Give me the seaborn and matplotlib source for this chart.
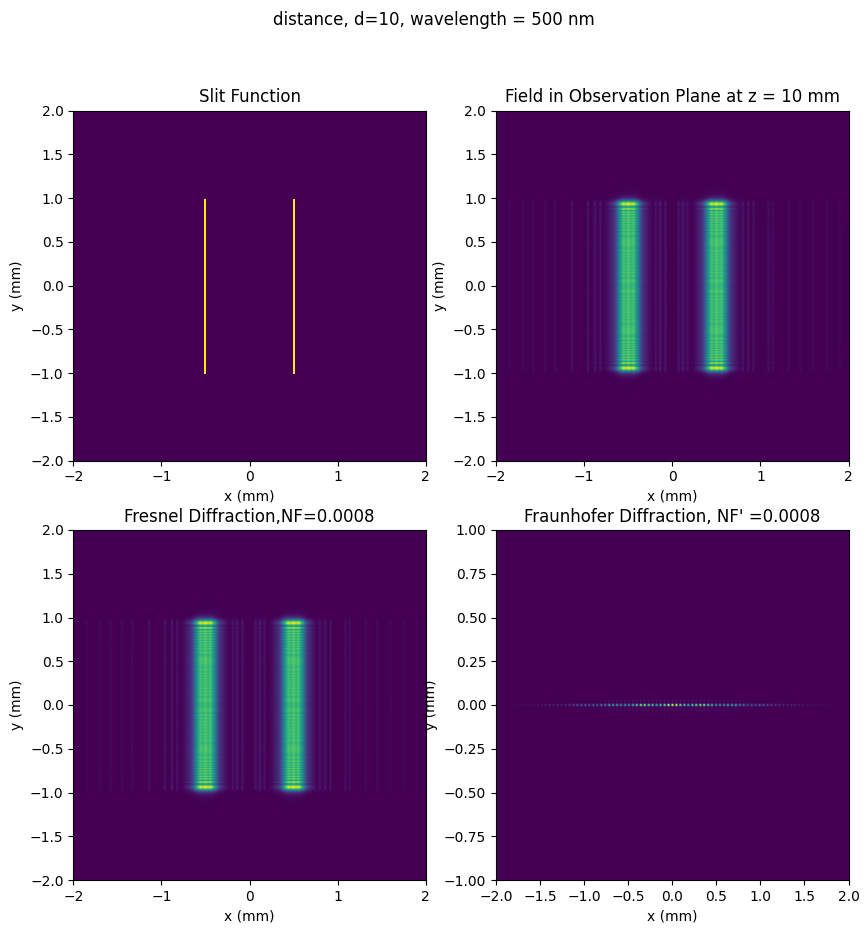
import numpy as np
import matplotlib
matplotlib.use("Agg")
import matplotlib.pyplot as plt
import seaborn as sns

# parametros
wavelength_mm = 500e-6
z_mm = 10.0
slit_centers = [-0.5, 0.5]
slit_line_width = 0.025
band_core = 0.12
band_shoulder = 0.21
slit_half_height = 1.0
NF = 0.0008

# franjas debiles fuera de las bandas (posicion en mm, amplitud relativa)
stripe_pos = [-1.85, -1.7, -1.58, -1.45, -1.33, -1.14, -0.96, -0.88, -0.82,
              -0.19, -0.14, -0.08, 0.07, 0.12, 0.17,
              0.80, 0.86, 0.92, 1.09, 1.14, 1.32, 1.45, 1.6, 1.75, 1.9]
stripe_amp = [0.03, 0.035, 0.04, 0.045, 0.05, 0.07, 0.09, 0.10, 0.08,
              0.09, 0.12, 0.10, 0.10, 0.12, 0.09,
              0.08, 0.10, 0.08, 0.06, 0.05, 0.04, 0.04, 0.035, 0.03, 0.03]

# patron de Fraunhofer
fringe_period = 0.045
env_width = 0.9
beat_period = 0.35

n = 400
x = np.linspace(-2, 2, n)
y = np.linspace(-2, 2, n)


def fresnel_tables():
    t = np.linspace(-80, 80, 320001)
    dt = t[1] - t[0]
    C = np.cumsum(np.cos(np.pi * t**2 / 2)) * dt
    S = np.cumsum(np.sin(np.pi * t**2 / 2)) * dt
    return t, C, S


T, CT, ST = fresnel_tables()


def slit_amp(xs, x1, x2):
    k = np.sqrt(2 / (wavelength_mm * z_mm))
    u1 = k * (x1 - xs)
    u2 = k * (x2 - xs)
    dC = np.interp(u2, T, CT) - np.interp(u1, T, CT)
    dS = np.interp(u2, T, ST) - np.interp(u1, T, ST)
    return (dC + 1j * dS) / np.sqrt(2)


# perfil en x: dos bandas suaves
Ix = np.zeros_like(x)
for c in slit_centers:
    d = x - c
    Ix = Ix + np.exp(-(d / band_core)**4) * (0.88 + 0.12 * np.cos(np.pi * d / 0.06)**2)
    Ix = Ix + 0.35 * np.exp(-(d / band_shoulder)**4)
for p, a in zip(stripe_pos, stripe_amp):
    Ix = Ix + a * np.exp(-((x - p) / 0.015)**2)

# perfil en y
uy = slit_amp(y, -slit_half_height, slit_half_height)
Iy = np.abs(uy)**2

field = np.outer(Iy, Ix)
field = field / field.max()

# funcion de rendija
X, Y = np.meshgrid(x, y)
slit = np.zeros_like(X)
for c in slit_centers:
    slit[(np.abs(X - c) < slit_line_width / 2 + 1e-9) & (np.abs(Y) <= slit_half_height)] = 1.0

# Fraunhofer
xf = np.linspace(-2, 2, n)
yf = np.linspace(-1, 1, n)
Ixf = np.exp(-(xf / env_width)**2) * np.cos(np.pi * xf / fringe_period)**2
Ixf = Ixf * (0.65 + 0.35 * np.cos(np.pi * xf / beat_period)**2)
Iyf = np.exp(-(yf / 0.006)**2) + 0.05 * np.exp(-((np.abs(yf) - 0.025) / 0.008)**2)
fraun = np.outer(Iyf, Ixf)
fraun = fraun / fraun.max()

cmap = sns.color_palette("viridis", as_cmap=True)

fig = plt.figure(figsize=(8.68, 9.33), dpi=100)
W, H = 868, 933
aw, ah = 352.5 / W, 350 / H
lefts = [73.3 / W, 496 / W]
bottoms = [1 - 460.7 / H, 1 - 880 / H]

ax1 = fig.add_axes([lefts[0], bottoms[0], aw, ah])
ax2 = fig.add_axes([lefts[1], bottoms[0], aw, ah])
ax3 = fig.add_axes([lefts[0], bottoms[1], aw, ah])
ax4 = fig.add_axes([lefts[1], bottoms[1], aw, ah])

ax1.imshow(slit, extent=[-2, 2, -2, 2], origin="lower", cmap=cmap, aspect="auto",
           interpolation="nearest")
ax1.set_title("Slit Function")

ax2.imshow(field, extent=[-2, 2, -2, 2], origin="lower", cmap=cmap, aspect="auto")
ax2.set_title("Field in Observation Plane at z = 10 mm")

ax3.imshow(field, extent=[-2, 2, -2, 2], origin="lower", cmap=cmap, aspect="auto")
ax3.set_title("Fresnel Diffraction,NF=%.4f" % NF)

ax4.imshow(fraun, extent=[-2, 2, -1, 1], origin="lower", cmap=cmap, aspect="auto")
ax4.set_title("Fraunhofer Diffraction, NF' =%.4f" % NF)

for ax in [ax1, ax2, ax3]:
    ax.set_xticks([-2, -1, 0, 1, 2])
for ax in [ax1, ax2, ax3, ax4]:
    ax.set_xlabel("x (mm)")
    ax.set_ylabel("y (mm)")

fig.suptitle("distance, d=10, wavelength = 500 nm", y=0.988)
fig.savefig("out.png", dpi=100)
